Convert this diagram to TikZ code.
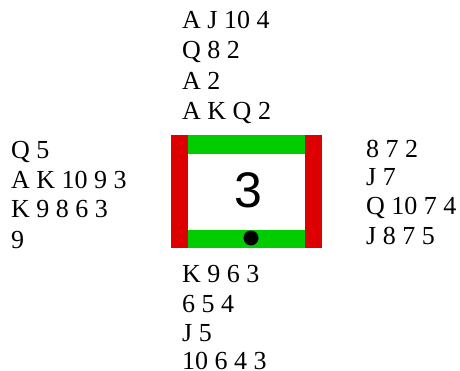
\documentclass[tikz,border=0pt]{standalone}
\usepackage{fontspec}
\setmainfont{Liberation Serif}
\newfontfamily\numfont{Liberation Sans}
\definecolor{vred}{HTML}{DD0000}
\definecolor{vgreen}{HTML}{00CC00}
\begin{document}
\begin{tikzpicture}[x=1pt,y=-1pt,
  hand/.style={anchor=base west,inner sep=0pt,font=\fontsize{26}{30}\selectfont},
  redbar/.style={fill=vred,draw=none},
  greenbar/.style={fill=vgreen,draw=none}]
\useasboundingbox (0,0) rectangle (460,371);
% North
\node[hand] (n1) at (182,29) {A J 10 4};
\node[hand] (n2) at (182,59) {Q 8 2};
\node[hand] (n3) at (182,90) {A 2};
\node[hand] (n4) at (182,120) {A K Q 2};
% West
\node[hand] (w1) at (11,159) {Q 5};
\node[hand] (w2) at (11,189) {A K 10 9 3};
\node[hand] (w3) at (11,218) {K 9 8 6 3};
\node[hand] (w4) at (11,248) {9};
% East
\node[hand] (e1) at (366,158) {8 7 2};
\node[hand] (e2) at (366,186) {J 7};
\node[hand] (e3) at (366,215) {Q 10 7 4};
\node[hand] (e4) at (366,244) {J 8 7 5};
% South
\node[hand] (s1) at (182,282) {K 9 6 3};
\node[hand] (s2) at (182,312) {6 5 4};
\node[hand] (s3) at (182,341) {J 5};
\node[hand] (s4) at (182,369) {10 6 4 3};
% Table
\fill[redbar] (171,135) rectangle (188,248);
\fill[redbar] (305,135) rectangle (322,248);
\fill[greenbar] (188,135) rectangle (305,154);
\fill[greenbar] (188,230) rectangle (305,248);
\fill[black] (251,238) circle (7.5);
\node[inner sep=0pt,font=\numfont\fontsize{50}{50}\selectfont] (tricks) at (248,190) {3};
\end{tikzpicture}
\end{document}
